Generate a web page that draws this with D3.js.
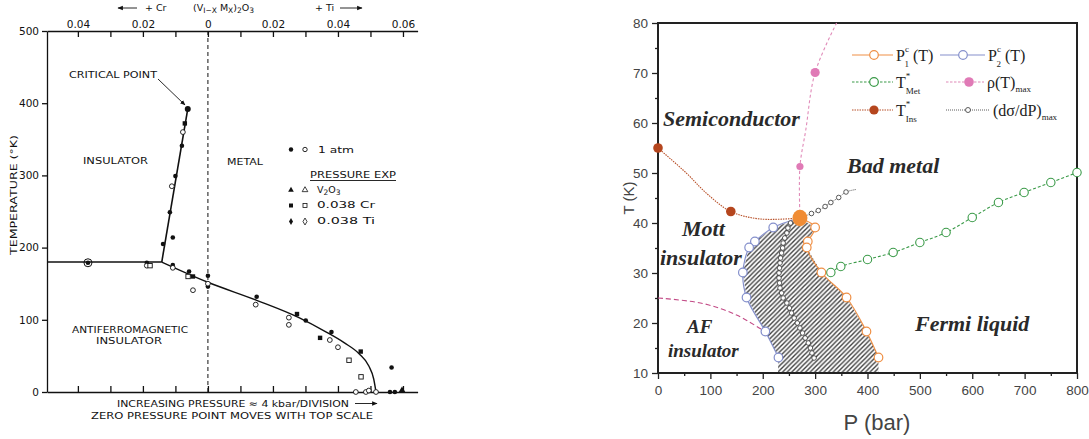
<!DOCTYPE html>
<html>
<head>
<meta charset="utf-8">
<title>V2O3 phase diagrams</title>
<script src="https://d3js.org/d3.v7.min.js"></script>
<style>
  body { margin: 0; background: #fff; }
  .lt { font-family: "DejaVu Sans", sans-serif; font-size: 9.5px; fill: #111; }
  .rs { font-family: "Liberation Serif", serif; fill: #222; }
  .rl { font-family: "Liberation Serif", serif; font-weight: bold; font-style: italic; fill: #2a2a2a; }
  .ra { font-family: "Liberation Sans", Arial, sans-serif; fill: #444; }
</style>
</head>
<body>
<div id="chart"></div>
<script>
// ---------- left panel data : (composition x, temperature K) ----------
var topTicks = [-0.04,-0.03,-0.02,-0.01,0,0.01,0.02,0.03,0.04,0.05,0.06];
var tempTicks = [0,100,200,300,400,500];

var filledDots = [[-0.0080,341],[-0.0100,299],[-0.0117,249],[-0.0108,214],[-0.0138,205],
  [-0.0188,179],[-0.0369,179],[-0.0108,176],[-0.0058,167],[0,161],[0,146],[0.015,132],
  [0.0301,99],[0.038,83],[0.0565,34],[0.0560,0],[0.0575,0]];
var critPoint = [[-0.0062,392]];
var openDots = [[-0.0077,360],[-0.0111,285],[-0.0188,175],[-0.0108,172],[-0.0046,141],
  [0,150],[0.0147,121],[0.0249,103],[0.0249,93],[0.0375,72],[0.040,62],
  [0.0455,0],[0.0486,0],[0.0495,2],[0.0517,0]];
var ringDots = [[-0.0369,179]];
var filledSquares = [[-0.0071,372],[-0.0046,160],[0.0274,108],[0.0345,75],[0.047,56]];
var openSquares = [[-0.0178,175],[-0.0061,160],[0.0434,44],[0.0471,21]];
var filledTriangles = [[0.0597,2]];

var afInsBound = [[-0.0495,180],[-0.0142,180]];
var insMetBound = [[-0.0142,180],[-0.0062,392]];
var afMetBound = [[-0.0142,180],[0,152],[0.015,127],[0.028,103],[0.036,84],[0.042,68],
  [0.0465,53],[0.0495,36],[0.051,18],[0.0517,0]];

// ---------- right panel data : (P bar, T K) ----------
var pTicks = [0,100,200,300,400,500,600,700,800];
var tTicks = [10,20,30,40,50,60,70,80];
var critEnd = [[271,41]];
var p1c = [[300,39.1],[286,36.3],[284,35.1],[312,30.1],[360,25.1],[398,18.3],[421,13.1]];
var p2c = [[220,39.1],[185,36.3],[174,35.1],[162,30.1],[169,25.1],[205,18.3],[230,13.1]];
var hatchBottom = [[421,10],[229,10]];
var tMet = [[330,30.1],[349,31.3],[400,32.7],[449,34.1],[500,36.1],[550,38.1],[600,41.1],
  [650,44.1],[699,46.1],[750,48.1],[800,50.1]];
var rhoMax = [[271,51.3],[300,70.1]];
var rhoPath = [[271,41],[271,51.3],[282,58.5],[300,70.1],[341,80]];
var tIns = [[0,55],[139,42.3]];
var tInsPath = [[0,55],[55,49.9],[93,45.9],[139,42.3],[195,40.8],[271,41]];
var afBound = [[0,25],[86,23.9],[150,21.6],[195,18.9],[205,18.3]];
var dsigLowT = [40,39,38,37,36,35,34,33,32,31,30,29,28,27,26,25,24,23,22,21,20,19,18,17,16,15,14,13];
var dsigLowP = [253,248,246,242,239,238,236,234,233,232,231,231,232,233,236,239,246,251,255,260,266,271,276,281,287,291,294,298];
var dsigHigh = [[293,41.9],[306,42.5],[319,43.3],[330,44.1],[345,45.1],[359,46.2]];
var dsigTail = [[378,46.7]];

var svg = d3.select("#chart").append("svg").attr("width",1089).attr("height",439);

// ================= LEFT PANEL =================
var L = svg.append("g");
var xL = d3.scaleLinear().domain([-0.0495,0.0645]).range([47,417.6]);
var yL = d3.scaleLinear().domain([0,500]).range([392,31]);
var f2 = d3.format(".2f");

var gTop = L.append("g").attr("transform","translate(0,31)")
  .call(d3.axisTop(xL).tickValues(topTicks).tickSize(-6).tickSizeOuter(0).tickPadding(3)
    .tickFormat(function(d){ var k=Math.round(d*100); return k===0 ? "0" : (k%2===0 ? f2(Math.abs(d)) : ""); }));
var gBot = L.append("g").attr("transform","translate(0,392)")
  .call(d3.axisBottom(xL).tickValues(topTicks).tickSize(-6).tickSizeOuter(0).tickFormat(""));
var gLeft = L.append("g").attr("transform","translate(47,0)")
  .call(d3.axisLeft(yL).tickValues(tempTicks).tickSize(5).tickSizeOuter(0).tickPadding(3));
[gTop,gBot,gLeft].forEach(function(g){
  g.selectAll("path,line").attr("stroke","#111").attr("stroke-width",1.3);
  g.selectAll("text").attr("font-family","DejaVu Sans").attr("font-size",10.5).attr("fill","#111");
});

L.append("line").attr("x1",xL(0)).attr("x2",xL(0)).attr("y1",31).attr("y2",392)
  .attr("stroke","#111").attr("stroke-width",1).attr("stroke-dasharray","4,3");

var lineL = d3.line().x(function(d){return xL(d[0]);}).y(function(d){return yL(d[1]);});
L.append("path").attr("d",lineL(afInsBound)).attr("fill","none").attr("stroke","#111").attr("stroke-width",1.4);
L.append("path").attr("d",lineL(insMetBound)).attr("fill","none").attr("stroke","#111").attr("stroke-width",1.6);
L.append("path").attr("d",lineL.curve(d3.curveMonotoneX)(afMetBound)).attr("fill","none").attr("stroke","#111").attr("stroke-width",1.4);

L.selectAll(".fd").data(filledDots).enter().append("circle")
  .attr("cx",function(d){return xL(d[0]);}).attr("cy",function(d){return yL(d[1]);})
  .attr("r",2.3).attr("fill","#111");
L.selectAll(".cp").data(critPoint).enter().append("circle")
  .attr("cx",function(d){return xL(d[0]);}).attr("cy",function(d){return yL(d[1]);})
  .attr("r",3).attr("fill","#111");
L.selectAll(".od").data(openDots).enter().append("circle")
  .attr("cx",function(d){return xL(d[0]);}).attr("cy",function(d){return yL(d[1]);})
  .attr("r",2.4).attr("fill","#fff").attr("stroke","#111").attr("stroke-width",0.9);
L.selectAll(".rd").data(ringDots).enter().append("circle")
  .attr("cx",function(d){return xL(d[0]);}).attr("cy",function(d){return yL(d[1]);})
  .attr("r",4).attr("fill","none").attr("stroke","#111").attr("stroke-width",1);
L.selectAll(".fs").data(filledSquares).enter().append("rect")
  .attr("x",function(d){return xL(d[0])-2.2;}).attr("y",function(d){return yL(d[1])-2.2;})
  .attr("width",4.4).attr("height",4.4).attr("fill","#111");
L.selectAll(".os").data(openSquares).enter().append("rect")
  .attr("x",function(d){return xL(d[0])-2.2;}).attr("y",function(d){return yL(d[1])-2.2;})
  .attr("width",4.4).attr("height",4.4).attr("fill","#fff").attr("stroke","#111").attr("stroke-width",0.9);
L.selectAll(".ft").data(filledTriangles).enter().append("path")
  .attr("transform",function(d){return "translate("+xL(d[0])+","+yL(d[1])+")";})
  .attr("d",d3.symbol(d3.symbolTriangle,22)).attr("fill","#111");

// left text
function ltxt(x,y,s,len,anchor){
  var t = L.append("text").attr("class","lt").attr("x",x).attr("y",y).text(s);
  if (len) t.attr("textLength",len).attr("lengthAdjust","spacingAndGlyphs");
  if (anchor) t.attr("text-anchor",anchor);
  return t;
}
ltxt(69,78,"CRITICAL POINT",88);
L.append("defs").append("marker").attr("id","ah").attr("viewBox","0 0 10 10").attr("refX",9).attr("refY",5)
  .attr("markerWidth",6).attr("markerHeight",6).attr("orient","auto")
  .append("path").attr("d","M0,1 L10,5 L0,9 z").attr("fill","#111");
L.append("line").attr("x1",158).attr("y1",79).attr("x2",185).attr("y2",105)
  .attr("stroke","#111").attr("stroke-width",0.9).attr("marker-end","url(#ah)");
ltxt(83,164,"INSULATOR",65);
ltxt(227,165,"METAL",36);
ltxt(72,333,"ANTIFERROMAGNETIC",116);
ltxt(96,344,"INSULATOR",66);
ltxt(117,407,"INCREASING PRESSURE \u2248 4 kbar/DIVISION",232);
L.append("line").attr("x1",355).attr("y1",403.5).attr("x2",377).attr("y2",403.5)
  .attr("stroke","#111").attr("stroke-width",0.9).attr("marker-end","url(#ah)");
ltxt(91,419,"ZERO PRESSURE POINT MOVES WITH TOP SCALE",282);

// legend (left)
L.append("circle").attr("cx",291).attr("cy",149.5).attr("r",2.2).attr("fill","#111");
L.append("circle").attr("cx",305).attr("cy",149.5).attr("r",2.2).attr("fill","#fff").attr("stroke","#111").attr("stroke-width",0.9);
ltxt(318,153,"1 atm",36);
ltxt(310,178,"PRESSURE EXP",86);
L.append("line").attr("x1",310).attr("x2",396).attr("y1",180.5).attr("y2",180.5).attr("stroke","#111").attr("stroke-width",0.9);
L.append("path").attr("transform","translate(291,190)").attr("d",d3.symbol(d3.symbolTriangle,14)).attr("fill","#111");
L.append("path").attr("transform","translate(305,190)").attr("d",d3.symbol(d3.symbolTriangle,14)).attr("fill","#fff").attr("stroke","#111").attr("stroke-width",0.8);
var v2 = ltxt(317,193,"V");
v2.append("tspan").attr("font-size",7.5).attr("dy",2).text("2");
v2.append("tspan").attr("dy",-2).text("O");
v2.append("tspan").attr("font-size",7.5).attr("dy",2).text("3");
L.append("rect").attr("x",289).attr("y",203.5).attr("width",4).attr("height",4).attr("fill","#111");
L.append("rect").attr("x",303).attr("y",203.5).attr("width",4).attr("height",4).attr("fill","#fff").attr("stroke","#111").attr("stroke-width",0.8);
ltxt(317,208,"0.038 Cr",58);
L.append("path").attr("transform","translate(291,221.5)").attr("d",d3.symbol(d3.symbolDiamond,14)).attr("fill","#111");
L.append("path").attr("transform","translate(305,221.5)").attr("d",d3.symbol(d3.symbolDiamond,14)).attr("fill","#fff").attr("stroke","#111").attr("stroke-width",0.8);
ltxt(317,224,"0.038 Ti",58);

// top captions
L.append("line").attr("x1",137).attr("y1",8).attr("x2",118).attr("y2",8).attr("stroke","#111").attr("stroke-width",0.9).attr("marker-end","url(#ah)");
ltxt(145,11,"+ Cr").attr("font-size",10.5);
L.append("line").attr("x1",340).attr("y1",8).attr("x2",362).attr("y2",8).attr("stroke","#111").attr("stroke-width",0.9).attr("marker-end","url(#ah)");
ltxt(315,11,"+ Ti").attr("font-size",10.5);
var form = ltxt(193,11,"(V").attr("font-size",10.5);
form.append("tspan").attr("font-size",7.5).attr("dy",2).text("I\u2212X");
form.append("tspan").attr("dy",-2).text(" M");
form.append("tspan").attr("font-size",7.5).attr("dy",2).text("X");
form.append("tspan").attr("dy",-2).text(")");
form.append("tspan").attr("font-size",7.5).attr("dy",2).text("2");
form.append("tspan").attr("dy",-2).text("O");
form.append("tspan").attr("font-size",7.5).attr("dy",2).text("3");

L.append("text").attr("class","lt").attr("transform","translate(17,195) rotate(-90)")
  .attr("text-anchor","middle").attr("textLength",120).attr("lengthAdjust","spacingAndGlyphs")
  .text("TEMPERATURE (\u00B0K)");

// ================= RIGHT PANEL =================
var R = svg.append("g");
var xR = d3.scaleLinear().domain([0,800]).range([658,1077]);
var yR = d3.scaleLinear().domain([10,80]).range([373,23]);
var lineR = d3.line().x(function(d){return xR(d[0]);}).y(function(d){return yR(d[1]);});

var defs = R.append("defs");
var pat = defs.append("pattern").attr("id","hatch").attr("patternUnits","userSpaceOnUse")
  .attr("width",4.6).attr("height",4.6);
pat.append("path").attr("d","M-1,1 l2,-2 M0,4.6 l4.6,-4.6 M3.6,5.6 l2,-2")
  .attr("stroke","#404040").attr("stroke-width",1.4);

// hatched coexistence region
var hatchPoly = critEnd.concat(p1c, hatchBottom, p2c.slice().reverse());
R.append("path").attr("d",lineR(hatchPoly)+"Z").attr("fill","url(#hatch)");

// axes
var gx = R.append("g").attr("transform","translate(0,373)")
  .call(d3.axisBottom(xR).tickValues(pTicks).tickSize(6).tickSizeOuter(0).tickPadding(6));
var gxm = R.append("g").attr("transform","translate(0,373)")
  .call(d3.axisBottom(xR).tickValues(pTicks.slice(1).map(function(d){return d-50;})).tickSize(3).tickFormat(""));
var gy = R.append("g").attr("transform","translate(658,0)")
  .call(d3.axisLeft(yR).tickValues(tTicks).tickSize(6).tickSizeOuter(0).tickPadding(4));
var gym = R.append("g").attr("transform","translate(658,0)")
  .call(d3.axisLeft(yR).tickValues(tTicks.slice(1).map(function(d){return d-5;})).tickSize(3).tickFormat(""));
[gx,gxm,gy,gym].forEach(function(g){
  g.select(".domain").remove();
  g.selectAll("line").attr("stroke","#222").attr("stroke-width",1.3);
  g.selectAll("text").attr("class","ra").attr("font-size",13.5).attr("fill","#555");
});
R.append("rect").attr("x",658).attr("y",23).attr("width",419).attr("height",350)
  .attr("fill","none").attr("stroke","#222").attr("stroke-width",2);

// lines
R.append("path").attr("d",lineR.curve(d3.curveCatmullRom)(afBound)).attr("fill","none")
  .attr("stroke","#c24a86").attr("stroke-width",1.1).attr("stroke-dasharray","5,3");
R.append("path").attr("d",lineR(tInsPath)).attr("fill","none")
  .attr("stroke","#b8512a").attr("stroke-width",1.1).attr("stroke-dasharray","1.5,1");
R.append("path").attr("d",lineR(rhoPath)).attr("fill","none")
  .attr("stroke","#e08ab8").attr("stroke-width",1.1).attr("stroke-dasharray","3,2.5");
R.append("path").attr("d",lineR(tMet)).attr("fill","none")
  .attr("stroke","#3a9a48").attr("stroke-width",1.1).attr("stroke-dasharray","3,2");
R.append("path").attr("d",lineR(critEnd.concat(p1c))).attr("fill","none")
  .attr("stroke","#ef9046").attr("stroke-width",1.2);
R.append("path").attr("d",lineR(critEnd.concat(p2c))).attr("fill","none")
  .attr("stroke","#8590cc").attr("stroke-width",1.2);
var dsigLow = dsigLowT.map(function(t,i){ return [dsigLowP[i], t]; });
R.append("path").attr("d",lineR(critEnd.concat(dsigLow))).attr("fill","none")
  .attr("stroke","#333").attr("stroke-width",0.8).attr("stroke-dasharray","1,1");
R.append("path").attr("d",lineR(critEnd.concat(dsigHigh, dsigTail))).attr("fill","none")
  .attr("stroke","#333").attr("stroke-width",0.8).attr("stroke-dasharray","1,1");

// markers
function dots(data, r, fill, stroke, sw){
  R.append("g").selectAll("circle").data(data).enter().append("circle")
    .attr("cx",function(d){return xR(d[0]);}).attr("cy",function(d){return yR(d[1]);})
    .attr("r",r).attr("fill",fill).attr("stroke",stroke).attr("stroke-width",sw);
}
dots(dsigLow, 2.3, "#fff", "#333", 0.8);
dots(dsigHigh, 2.3, "#fff", "#333", 0.8);
dots(tMet, 4.2, "#fff", "#3a9a48", 1.1);
dots(p1c, 4.3, "#fff", "#ef9046", 1.2);
dots(p2c, 4.3, "#fff", "#8590cc", 1.2);
dots(tIns, 4.8, "#b5461e", "none", 0);
dots([rhoMax[0]], 3.6, "#e07ab6", "none", 0);
dots([rhoMax[1]], 4.6, "#e07ab6", "none", 0);
R.append("g").selectAll("ellipse").data(critEnd).enter().append("ellipse")
  .attr("cx",function(d){return xR(d[0]);}).attr("cy",function(d){return yR(d[1]);})
  .attr("rx",7.5).attr("ry",8.3).attr("fill","#f08c34");

// region labels
function rlab(x,y,s,size){ R.append("text").attr("class","rl").attr("x",x).attr("y",y).attr("font-size",size).text(s); }
rlab(663,126,"Semiconductor",22);
rlab(847,173,"Bad metal",22);
rlab(682,236,"Mott",22);
rlab(660,265,"insulator",22);
rlab(687,333,"AF",19);
rlab(668,357,"insulator",19);
rlab(915,331,"Fermi liquid",22);

// axis titles
R.append("text").attr("class","ra").attr("x",877).attr("y",430).attr("text-anchor","middle")
  .attr("font-size",22).attr("fill","#333").text("P (bar)");
R.append("text").attr("class","ra").attr("transform","translate(634,198) rotate(-90)")
  .attr("text-anchor","middle").attr("font-size",15).attr("fill","#333").text("T (K)");

// legend
function legLine(x1,x2,y,color,dash,sw){
  R.append("line").attr("x1",x1).attr("x2",x2).attr("y1",y).attr("y2",y)
    .attr("stroke",color).attr("stroke-width",sw||1.2).attr("stroke-dasharray",dash||null);
}
function legText(x,y,main,sup,sub,rest){
  var t = R.append("text").attr("class","rs").attr("x",x).attr("y",y).attr("font-size",16).text(main);
  if (sup) t.append("tspan").attr("font-size",9).attr("dy",-9).text(sup);
  if (sub) t.append("tspan").attr("font-size",9).attr("dx",sup ? -4.5 : 0).attr("dy",sup ? 15 : 5).text(sub);
  if (rest) t.append("tspan").attr("font-size",16).attr("dy",sup ? -6 : -5).text(rest);
}
legLine(852,893,55,"#ef9046");
R.append("circle").attr("cx",874).attr("cy",55).attr("r",4.3).attr("fill","#fff").attr("stroke","#ef9046").attr("stroke-width",1.2);
legText(896,61,"P","c","1"," (T)");
legLine(940,985,55,"#8590cc");
R.append("circle").attr("cx",963).attr("cy",55).attr("r",4.3).attr("fill","#fff").attr("stroke","#8590cc").attr("stroke-width",1.2);
legText(988,61,"P","c","2"," (T)");

legLine(852,893,82,"#3a9a48","2.5,1.5",1.1);
R.append("circle").attr("cx",874).attr("cy",82).attr("r",4.3).attr("fill","#fff").attr("stroke","#3a9a48").attr("stroke-width",1.2);
legText(896,88,"T","*","Met","");
legLine(946,984,82,"#e08ab8","2.5,1.5",1.1);
R.append("circle").attr("cx",969).attr("cy",82).attr("r",4.8).attr("fill","#e07ab6");
var rho = R.append("text").attr("class","rs").attr("x",987).attr("y",88).attr("font-size",16).text("\u03C1(T)");
rho.append("tspan").attr("font-size",9).attr("dy",4).text("max");

legLine(852,893,110,"#b8512a","1.5,1",1.2);
R.append("circle").attr("cx",874).attr("cy",110).attr("r",4.6).attr("fill","#b5461e");
legText(896,116,"T","*","Ins","");
legLine(946,990,110,"#333","1,1",0.8);
R.append("circle").attr("cx",968).attr("cy",110).attr("r",2.5).attr("fill","#fff").attr("stroke","#333").attr("stroke-width",0.8);
var ds = R.append("text").attr("class","rs").attr("x",993).attr("y",116).attr("font-size",16).text("(d\u03C3/dP)");
ds.append("tspan").attr("font-size",9).attr("dy",4).text("max");
</script>
</body>
</html>
